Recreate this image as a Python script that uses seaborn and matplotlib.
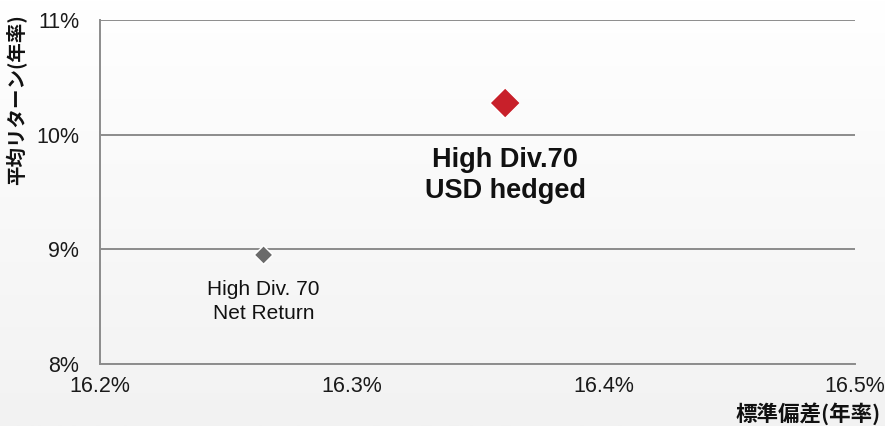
import numpy as np
import pandas as pd
import matplotlib
matplotlib.use("Agg")
import matplotlib.pyplot as plt
import seaborn as sns

# Risk / return of the two index variants
series = ["High Div. 70\nNet Return", "High Div.70\nUSD hedged"]
risk = [16.265, 16.361]      # annualised standard deviation, %
ret = [8.951, 10.276]        # annualised average return, %
colors = ["#6a6a6a", "#c8202a"]
sizes = [90, 240]

x_ticks = [16.2, 16.3, 16.4, 16.5]
y_ticks = [8, 9, 10, 11]

df = pd.DataFrame({"series": series, "risk": risk, "ret": ret})

sns.set_theme(style="white")
plt.rcParams["font.family"] = ["Liberation Sans", "Noto Sans CJK JP", "DejaVu Sans"]

fig = plt.figure(figsize=(8.85, 4.26), dpi=100)

# soft white-to-grey background
bg = fig.add_axes([0, 0, 1, 1], zorder=-10)
grad = np.linspace(1.0, 0.0, 256).reshape(-1, 1)
bg.imshow(grad, aspect="auto", cmap=matplotlib.colors.LinearSegmentedColormap.from_list(
    "bgfade", ["#f2f2f2", "#ffffff"]), extent=[0, 1, 0, 1])
bg.set_axis_off()

ax = fig.add_axes([100 / 885, 1 - 364 / 426, 755 / 885, 344 / 426])
ax.patch.set_alpha(0)

sns.scatterplot(data=df, x="risk", y="ret", hue="series", palette=colors,
                size="series", sizes=dict(zip(series, sizes)), marker="D",
                edgecolor="white", linewidth=1, legend=False, ax=ax, zorder=5)

ax.set_xlim(x_ticks[0], x_ticks[-1])
ax.set_ylim(y_ticks[0], y_ticks[-1])
ax.set_xticks(x_ticks)
ax.set_yticks(y_ticks)
ax.set_xticklabels([f"{v:.1f}%" for v in x_ticks])
ax.set_yticklabels([f"{v}%" for v in y_ticks])
ax.tick_params(axis="both", labelsize=15.5, length=4, width=1.2, direction="out")
ax.tick_params(axis="x", colors="#888888", labelcolor="#1a1a1a", pad=5)
ax.tick_params(axis="y", colors="#888888", labelcolor="#1a1a1a", pad=11)

ax.grid(axis="y", color="#8c8c8c", linewidth=1.4)
ax.grid(axis="x", visible=False)
for side in ["top", "right"]:
    ax.spines[side].set_visible(False)
for side in ["left", "bottom"]:
    ax.spines[side].set_color("#8c8c8c")
    ax.spines[side].set_linewidth(1.4)
ax.set_xlabel("")
ax.set_ylabel("")

# point labels
ax.annotate(series[0], (risk[0], ret[0]), xytext=(0, -18), textcoords="offset points",
            ha="center", va="top", fontsize=15, color="#111111", linespacing=1.35)
ax.annotate(series[1], (risk[1], ret[1]), xytext=(0, -32), textcoords="offset points",
            ha="center", va="top", fontsize=19.5, fontweight="bold", color="#111111",
            linespacing=1.22)

# axis titles
fig.text(17 / 885, 1 - 100 / 426, "平均リターン(年率)", rotation=90, ha="center",
         va="center", fontsize=14, fontweight="bold", color="#111111",
         family=["Noto Sans CJK JP", "DejaVu Sans"])
fig.text(881 / 885, 1 - 414 / 426, "標準偏差(年率)", ha="right", va="center",
         fontsize=15.5, fontweight="bold", color="#111111",
         family=["Noto Sans CJK JP", "DejaVu Sans"])

fig.savefig("out.png", dpi=100)
